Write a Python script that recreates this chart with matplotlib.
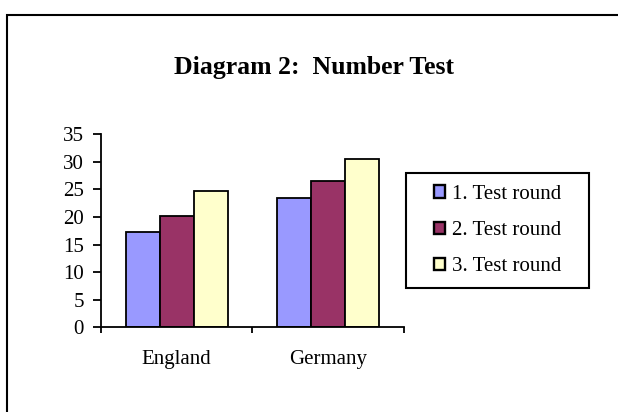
import matplotlib.pyplot as plt
from matplotlib.patches import Rectangle
import numpy as np

plt.rcParams['font.family'] = ['Liberation Serif', 'DejaVu Serif']

countries = ['England', 'Germany']
round1 = [17.3, 23.4]
round2 = [20.2, 26.6]
round3 = [24.7, 30.6]
labels = ['1. Test round', '2. Test round', '3. Test round']
colors = ['#9999FF', '#993366', '#FFFFCC']

fig = plt.figure(figsize=(6.18, 4.12), dpi=100)
ax = fig.add_axes([0.163, 0.2056, 0.491, 0.4684])

x = np.arange(len(countries))
w = 0.224
for i, (vals, lab, col) in enumerate(zip([round1, round2, round3], labels, colors)):
    ax.bar(x + (i - 1) * w, vals, w, color=col, edgecolor='black', linewidth=1.3, label=lab)

ax.set_xlim(-0.5, 1.5)
ax.set_ylim(0, 35)
ax.set_yticks(range(0, 36, 5))
ax.set_xticks(x)
ax.set_xticklabels(countries)
ax.set_xticks([-0.5, 0.5, 1.5], minor=True)
ax.tick_params(axis='x', which='major', length=0, pad=16, labelsize=15)
ax.tick_params(axis='x', which='minor', length=4.5, width=1.3, direction='out')
ax.tick_params(axis='y', length=6, width=1.3, direction='out', labelsize=15, pad=6)
ax.spines['top'].set_visible(False)
ax.spines['right'].set_visible(False)
ax.spines['left'].set_linewidth(1.3)
ax.spines['bottom'].set_linewidth(1.3)

# legend box drawn separately, legend itself centered inside
fig.patches.append(Rectangle((406 / 618, 1 - 288 / 412), 183 / 618, 115 / 412,
                             transform=fig.transFigure, fill=False,
                             edgecolor='black', linewidth=1.5))
leg = fig.legend(loc='center', bbox_to_anchor=(0.805, 0.44), fontsize=15,
                 frameon=False, handlelength=0.55, handleheight=0.55,
                 handletextpad=0.3, labelspacing=0.82, borderpad=0)
for h in leg.legend_handles:
    h.set_linewidth(1.7)

fig.text(0.508, 0.82, 'Diagram 2:  Number Test', ha='center', va='baseline',
         fontsize=18.5, fontweight='bold')

fig.patches.append(Rectangle((0.012, -0.1), 1.1, 1.0636, transform=fig.transFigure,
                             fill=False, edgecolor='black', linewidth=1.5, clip_on=False))

fig.savefig('out.png', dpi=100)
